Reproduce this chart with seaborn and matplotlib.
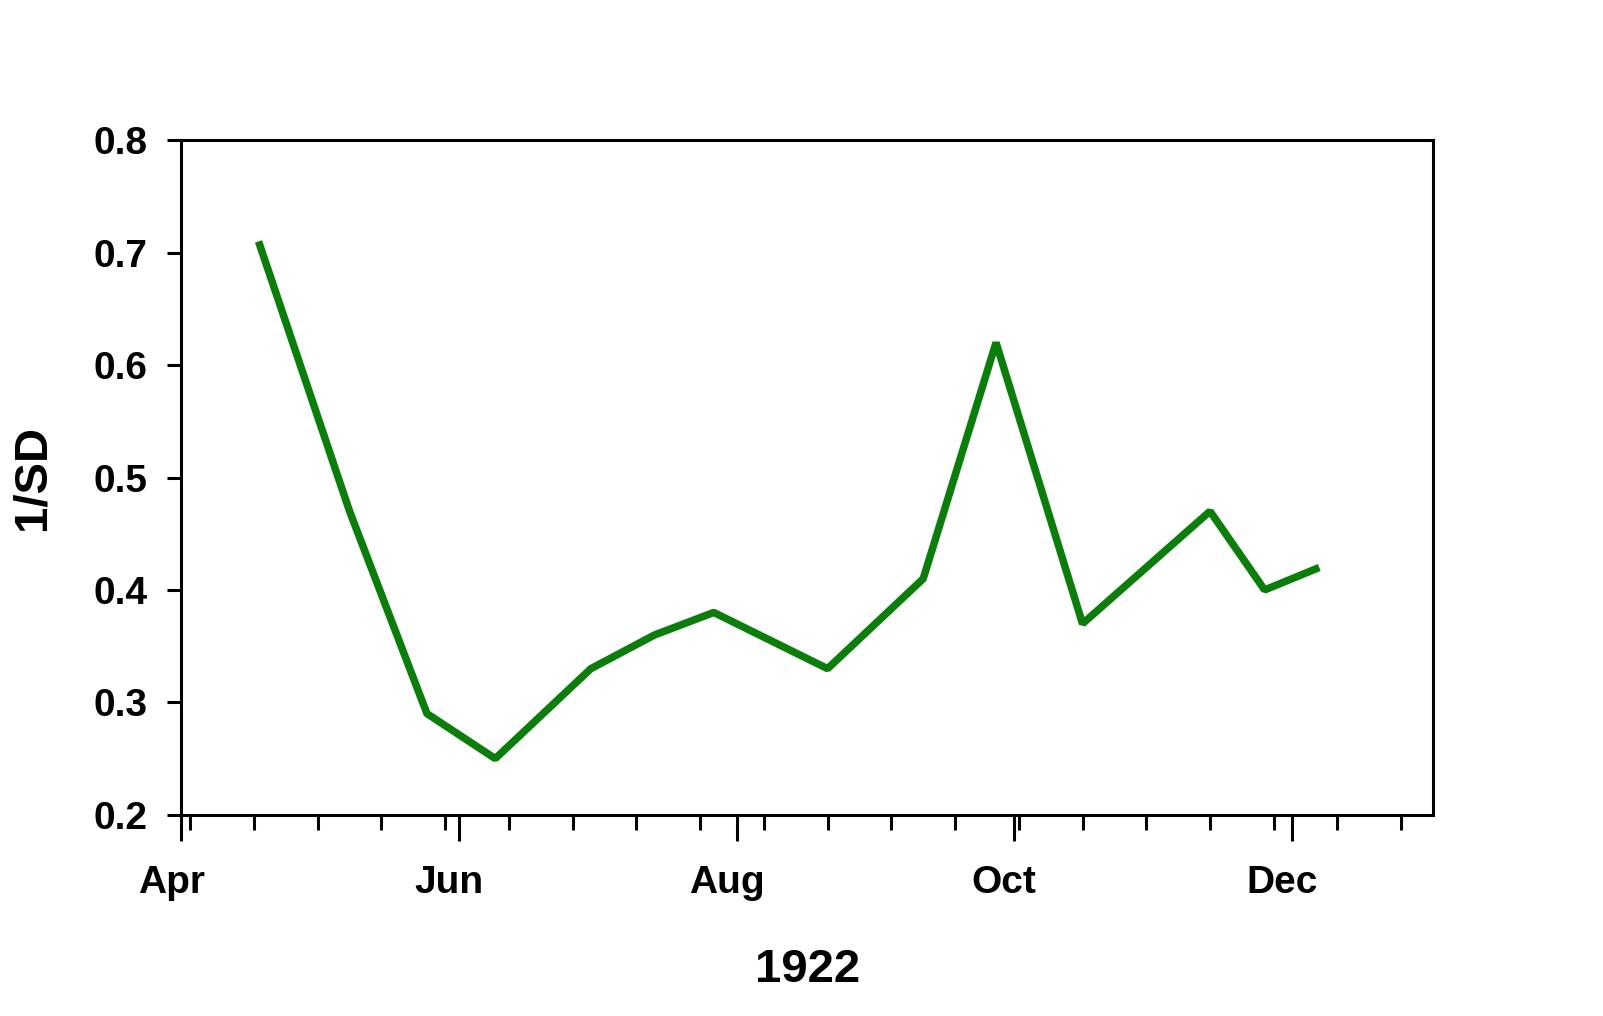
import pandas as pd
import matplotlib
matplotlib.use("Agg")
import matplotlib.pyplot as plt
import matplotlib.dates as mdates
import matplotlib.ticker as mticker
import matplotlib.transforms as mtransforms
import seaborn as sns

# data
dates = ["1922-04-18", "1922-05-08", "1922-05-25", "1922-06-09", "1922-06-30",
         "1922-07-14", "1922-07-27", "1922-08-21", "1922-09-11", "1922-09-27",
         "1922-10-16", "1922-11-13", "1922-11-25", "1922-12-07"]
inv_sd = [0.71, 0.47, 0.29, 0.25, 0.33, 0.36, 0.38, 0.33, 0.41, 0.62,
          0.37, 0.47, 0.40, 0.42]
month_ticks = ["1922-04-01", "1922-06-01", "1922-08-01", "1922-10-01", "1922-12-01"]
month_labels = ["Apr", "Jun", "Aug", "Oct", "Dec"]
y_ticks = [0.2, 0.3, 0.4, 0.5, 0.6, 0.7, 0.8]

df = pd.DataFrame({"date": pd.to_datetime(dates), "inv_sd": inv_sd})

sns.set_style("ticks")
plt.rcParams["font.family"] = ["Liberation Sans", "DejaVu Sans"]
plt.rcParams["font.weight"] = "bold"
plt.rcParams["text.color"] = "black"
plt.rcParams["axes.labelcolor"] = "black"
plt.rcParams["xtick.color"] = "black"
plt.rcParams["ytick.color"] = "black"

fig = plt.figure(figsize=(16.03, 10.16), dpi=100)
ax = fig.add_axes([0.113, 0.198, 0.781, 0.664])

sns.lineplot(data=df, x="date", y="inv_sd", ax=ax, color="#0a7d0a", linewidth=5.4,
             solid_capstyle="butt", solid_joinstyle="bevel")

ax.set_xlim(pd.Timestamp("1922-04-01"), pd.Timestamp("1923-01-01"))
ax.set_ylim(0.2, 0.8)

ax.set_xticks(pd.to_datetime(month_ticks))
ax.set_xticklabels(month_labels)
minor = pd.date_range("1922-04-03", "1922-12-31", freq="14D")
ax.xaxis.set_minor_locator(mticker.FixedLocator(mdates.date2num(minor)))
ax.set_yticks(y_ticks)
ax.set_yticklabels([f"{v:.1f}" for v in y_ticks])

for s in ax.spines.values():
    s.set_linewidth(2.2)
    s.set_color("black")
    s.set_visible(True)

ax.tick_params(axis="x", which="major", direction="out", length=19, width=2.2,
               labelsize=28, pad=17, top=False)
ax.tick_params(axis="x", which="minor", direction="out", length=11, width=2.2, top=False)
ax.tick_params(axis="y", which="major", direction="out", length=10, width=2.2,
               labelsize=28, pad=14, right=False)

shift = mtransforms.ScaledTranslation(-0.10, 0, fig.dpi_scale_trans)
for lbl in ax.get_xticklabels():
    lbl.set_transform(lbl.get_transform() + shift)
    lbl.set_fontweight("bold")
for lbl in ax.get_yticklabels():
    lbl.set_fontweight("bold")

ax.set_xlabel("1922", fontsize=34, fontweight="bold", labelpad=34)
ax.set_ylabel("1/SD", fontsize=34, fontweight="bold", labelpad=28)

fig.savefig("out.png", dpi=100, facecolor="white")
